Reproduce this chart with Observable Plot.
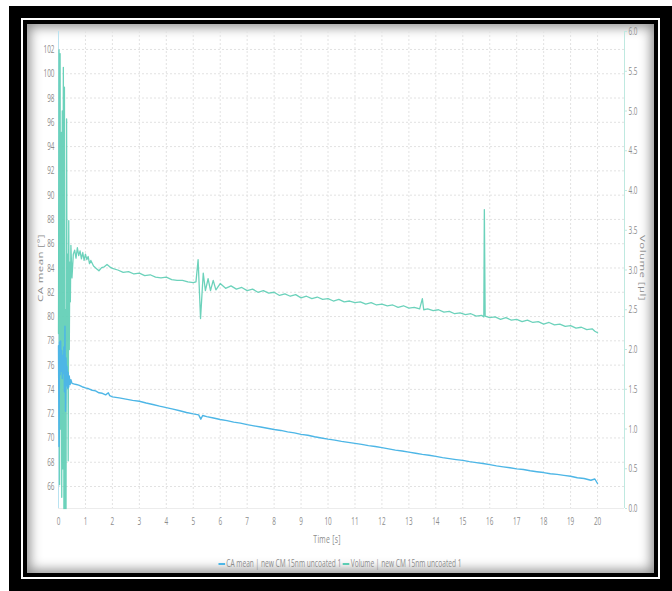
<!DOCTYPE html>
<html>
<head>
<meta charset="utf-8">
<script src="https://cdn.jsdelivr.net/npm/d3@7"></script>
<script src="https://cdn.jsdelivr.net/npm/@observablehq/plot@0.6"></script>
<style>
  html, body { margin: 0; padding: 0; background: #fff; }
  body { width: 672px; height: 591px; position: relative; overflow: hidden; font-family: "Open Sans", sans-serif; }
  #outer { position: absolute; left: 9px; top: 6px; width: 663px; height: 585px; box-sizing: border-box; border: 12px solid #000; }
  #inner { position: absolute; left: 23px; top: 20px; width: 635px; height: 557px; box-sizing: border-box; border: 4px solid #000;
           box-shadow: inset 0 0 12px 3px rgba(0,0,0,0.45); background: #fff; }
  #chart { position: absolute; left: 0; top: 0; }
  .lab { position: absolute; color: #8c8c8c; font-size: 11.5px; white-space: nowrap; letter-spacing: 0.4px; }
  #legend { position: absolute; top: 555px; left: 340px; color: #8c8c8c; font-size: 11px; white-space: nowrap;
            transform: translateX(-50%) scaleX(0.6); }
  #legend .sw { display: inline-block; width: 11px; height: 0; border-top: 2px solid; vertical-align: middle; margin-right: 2px; }
</style>
</head>
<body>
<div id="outer"></div>
<div id="inner"></div>
<div id="chart"></div>
<div class="lab" style="left:327px; top:538px; transform: translate(-50%,-50%) scaleX(0.6);">Time [s]</div>
<div class="lab" style="left:40px; top:268px; transform: translate(-50%,-50%) scaleX(0.6) rotate(-90deg);">CA mean [°]</div>
<div class="lab" style="left:643px; top:268px; transform: translate(-50%,-50%) scaleX(0.6) rotate(90deg);">Volume [µl]</div>
<div id="legend"><span class="sw" style="border-color:#4db6e6"></span>CA mean | new CM 15nm uncoated 1 <span class="sw" style="border-color:#5ccdb4"></span>Volume | new CM 15nm uncoated 1</div>
<script>
// ---- data ----
const seriesNames = ["CA mean | new CM 15nm uncoated 1", "Volume | new CM 15nm uncoated 1"];

const caTime = [0.00,0.02,0.04,0.06,0.08,0.10,0.12,0.14,0.16,0.18,0.20,0.22,0.24,0.26,0.28,0.30,0.32,0.34,0.36,0.38,0.40,0.43,0.46,
  0.5,0.625,0.75,0.875,1.0,1.125,1.25,1.375,1.5,1.625,1.75,1.85,1.9,2.0,2.25,2.5,2.75,3.0,3.25,3.5,3.75,4.0,4.25,4.5,4.75,5.0,5.2,5.28,5.35,5.5,5.75,
  6.0,6.25,6.5,6.75,7.0,7.25,7.5,7.75,8.0,8.25,8.5,8.75,9.0,9.25,9.5,9.75,10.0,10.25,10.5,10.75,11.0,11.25,11.5,11.75,12.0,12.25,12.5,12.75,
  13.0,13.25,13.5,13.75,14.0,14.25,14.5,14.75,15.0,15.25,15.5,15.75,16.0,16.25,16.5,16.75,17.0,17.25,17.5,17.75,18.0,18.25,18.5,18.75,
  19.0,19.25,19.5,19.75,19.9,20.0];
const caValue = [77.6,69.3,77.9,75.2,78.0,75.5,77.2,74.9,76.8,75.3,77.5,73.8,79.2,72.2,76.6,74.3,75.9,74.1,75.4,74.2,75.1,74.4,74.8,
  74.5,74.42,74.35,74.22,74.12,74.05,73.93,73.88,73.72,73.68,73.55,73.72,73.48,73.38,73.3,73.2,73.1,73.02,72.88,72.76,72.62,72.5,72.38,72.24,72.1,71.98,71.9,71.55,71.85,71.76,71.64,
  71.52,71.43,71.3,71.22,71.1,71.0,70.9,70.8,70.7,70.62,70.5,70.42,70.3,70.22,70.1,70.0,69.9,69.82,69.72,69.64,69.55,69.47,69.37,69.3,69.2,69.1,69.0,68.93,
  68.83,68.74,68.65,68.58,68.48,68.38,68.3,68.22,68.15,68.05,67.97,67.9,67.8,67.7,67.62,67.55,67.45,67.4,67.3,67.22,67.15,67.05,67.0,66.92,
  66.85,66.72,66.66,66.52,66.62,66.25];

const volTime = [0.00,0.02,0.04,0.06,0.08,0.10,0.12,0.14,0.16,0.18,0.20,0.22,0.24,0.26,0.28,0.30,0.32,0.34,0.36,0.38,0.40,0.42,0.44,0.46,
  0.50,0.55,0.60,0.65,0.70,0.75,0.80,0.85,0.90,0.95,1.00,1.05,1.10,1.15,1.20,1.30,1.40,1.50,1.60,1.70,1.80,1.90,2.0,2.2,2.4,2.6,2.8,3.0,3.2,3.4,3.6,3.8,
  4.0,4.2,4.4,4.6,4.8,5.0,5.1,5.18,5.27,5.37,5.45,5.55,5.64,5.74,5.84,
  6.0,6.2,6.4,6.6,6.8,7.0,7.2,7.4,7.6,7.8,8.0,8.2,8.4,8.6,8.8,9.0,9.2,9.4,9.6,9.8,10.0,10.2,10.4,10.6,10.8,11.0,11.2,11.4,11.6,11.8,
  12.0,12.2,12.4,12.6,12.8,13.0,13.2,13.4,13.5,13.55,13.7,13.9,14.1,14.3,14.5,14.7,14.9,15.1,15.3,15.5,15.7,15.78,15.8,15.83,
  16.0,16.2,16.4,16.6,16.8,17.0,17.2,17.4,17.6,17.8,18.0,18.2,18.4,18.6,18.8,19.0,19.2,19.4,19.6,19.8,19.9,20.0];
const volValue = [2.2,5.77,0.3,5.72,1.0,4.73,0.14,5.0,0.5,5.55,0.0,5.30,0.0,2.5,0.0,4.90,1.8,3.2,0.6,3.62,2.0,3.1,2.6,3.31,
  2.9,3.2,3.25,3.15,3.28,3.18,3.24,3.14,3.22,3.12,3.2,3.13,3.17,3.08,3.12,3.05,3.02,2.99,3.03,3.04,3.07,3.04,3.02,3.0,2.97,2.98,2.95,2.96,2.93,2.94,2.91,2.9,
  2.91,2.88,2.87,2.87,2.85,2.84,2.85,3.13,2.39,2.96,2.74,2.89,2.74,2.87,2.75,
  2.83,2.77,2.8,2.76,2.78,2.74,2.76,2.72,2.74,2.71,2.72,2.68,2.7,2.67,2.69,2.65,2.67,2.64,2.66,2.63,2.64,2.61,2.63,2.6,2.61,2.59,2.6,2.57,2.59,2.56,
  2.57,2.55,2.56,2.53,2.55,2.52,2.53,2.51,2.64,2.5,2.51,2.49,2.5,2.47,2.48,2.45,2.46,2.44,2.45,2.42,2.43,2.41,3.76,2.42,
  2.4,2.41,2.38,2.4,2.37,2.38,2.35,2.37,2.34,2.35,2.32,2.34,2.31,2.32,2.29,2.3,2.27,2.28,2.25,2.26,2.23,2.21];

const xTicks = d3.range(0, 21, 1);
const leftTicks = d3.range(66, 103, 2);
const rightTicks = d3.range(0, 6.01, 0.5);

// ---- scales ----
const yLo = 64.19, yHi = 103.48;   // left axis domain (CA mean °)
const vLo = 0, vHi = 6;            // right axis domain (Volume µl)
const toLeft = v => yLo + (v - vLo) * (yHi - yLo) / (vHi - vLo);
const fromLeft = y => vLo + (y - yLo) * (vHi - vLo) / (yHi - yLo);

const caData = caTime.map((t, i) => ({t, v: caValue[i]}));
const volData = volTime.map((t, i) => ({t, v: volValue[i], y: toLeft(volValue[i])}));

const blue = "#4db6e6", teal = "#5ccdb4";
const tickFont = "#8c8c8c";

const chart = Plot.plot({
  width: 672, height: 591,
  marginTop: 31, marginBottom: 83, marginLeft: 58, marginRight: 48,
  style: {background: "transparent", fontFamily: '"Open Sans", sans-serif', fontSize: "11px"},
  x: {domain: [0, 21]},
  y: {domain: [yLo, yHi]},
  marks: [
    Plot.gridY(leftTicks, {stroke: "#e2e2e2", strokeOpacity: 1, strokeDasharray: "2,2"}),
    Plot.gridX(xTicks, {stroke: "#e2e2e2", strokeOpacity: 1, strokeDasharray: "2,2"}),
    Plot.ruleY([yLo], {stroke: "#ececec"}),
    Plot.ruleX([0], {stroke: "#b9e3f1"}),
    Plot.ruleX([21], {stroke: "#bfe9e0"}),
    Plot.line(volData, {x: "t", y: "y", stroke: teal, strokeWidth: 1.3, strokeOpacity: 0.9}),
    Plot.line(caData, {x: "t", y: "v", stroke: blue, strokeWidth: 1.4}),
    Plot.axisY(leftTicks, {anchor: "left", tickSize: 0, tickPadding: 4, fill: tickFont, label: null}),
    Plot.axisY(rightTicks.map(toLeft), {anchor: "right", tickSize: 2, tickPadding: 2, stroke: "#bfe9e0", fill: tickFont, label: null,
      tickFormat: d => fromLeft(d).toFixed(1)}),
    Plot.axisX(xTicks, {anchor: "bottom", tickSize: 0, tickPadding: 9, fill: tickFont, label: null})
  ]
});
// condense tick-label glyphs horizontally (the reference uses a narrow face)
d3.select(chart).selectAll("text").each(function() {
  const tr = this.getAttribute("transform") || "";
  const x = this.getAttribute("x");
  let pre = "";
  if (x !== null) { this.removeAttribute("x"); pre = ` translate(${x},0)`; }
  this.setAttribute("transform", `${tr}${pre} scale(0.58,1)`);
});
document.getElementById("chart").appendChild(chart);
</script>
</body>
</html>
